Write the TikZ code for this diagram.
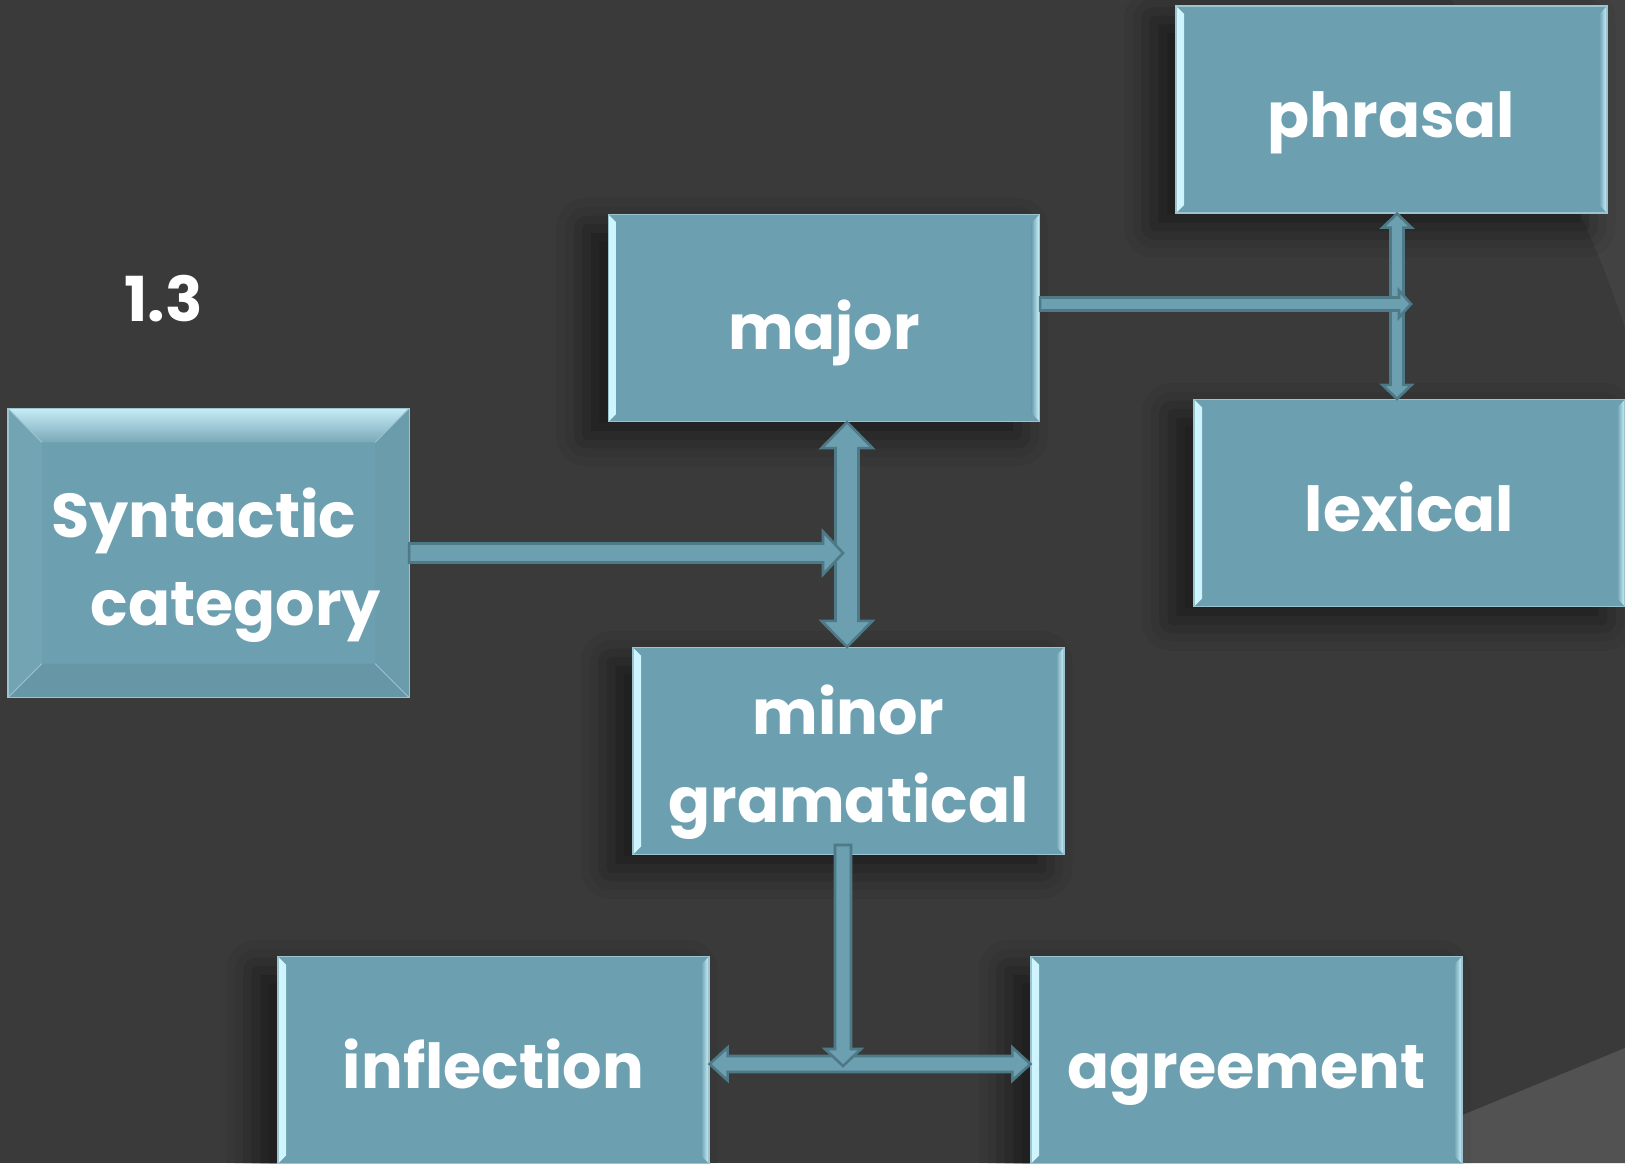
\documentclass[tikz,border=0pt]{standalone}
\usepackage{fontspec}
\setmainfont{Poppins}
\usetikzlibrary{calc,shadows.blur}

\definecolor{bg}{HTML}{3A3A3A}
\definecolor{bgring}{HTML}{424242}
\definecolor{bgband}{HTML}{525252}
\definecolor{boxfill}{HTML}{6C9FAF}
\definecolor{boxedge}{HTML}{9CC4D0}
\definecolor{bevlight}{HTML}{CFF5FF}
\definecolor{arrowedge}{HTML}{4E7987}

% double-headed block arrow: start, end, half shaft, half head, head length
\newcommand\blockdouble[5]{%
  \draw[barrow]
    (#1)
    -- ($($(#1)!#5!(#2)$)!#4!90:(#2)$)
    -- ($($(#1)!#5!(#2)$)!#3!90:(#2)$)
    -- ($($(#2)!#5!(#1)$)!#3!-90:(#1)$)
    -- ($($(#2)!#5!(#1)$)!#4!-90:(#1)$)
    -- (#2)
    -- ($($(#2)!#5!(#1)$)!#4!90:(#1)$)
    -- ($($(#2)!#5!(#1)$)!#3!90:(#1)$)
    -- ($($(#1)!#5!(#2)$)!#3!-90:(#2)$)
    -- ($($(#1)!#5!(#2)$)!#4!-90:(#2)$)
    -- cycle;}

% single-headed block arrow: start, end, half shaft, half head, head length
\newcommand\blocksingle[5]{%
  \draw[barrow]
    ($(#1)!#3!90:(#2)$)
    -- ($($(#2)!#5!(#1)$)!#3!-90:(#1)$)
    -- ($($(#2)!#5!(#1)$)!#4!-90:(#1)$)
    -- (#2)
    -- ($($(#2)!#5!(#1)$)!#4!90:(#1)$)
    -- ($($(#2)!#5!(#1)$)!#3!90:(#1)$)
    -- ($(#1)!#3!-90:(#2)$)
    -- cycle;}

\tikzset{
  box/.style={
    minimum width=431pt, minimum height=207pt, inner sep=0pt,
    fill=boxfill, draw=boxedge, line width=1.2pt,
    blur shadow={shadow xshift=-22pt, shadow yshift=-14pt,
                 shadow blur radius=30pt, shadow opacity=55},
    path picture={
      \fill[left color=bevlight, right color=boxfill]
        (path picture bounding box.north west) -- ++(8,8)
        -- ($(path picture bounding box.south west)+(8,-8)$)
        -- (path picture bounding box.south west) -- cycle;
      \fill[left color=boxfill, right color=bevlight]
        (path picture bounding box.north east) -- ++(-8,8)
        -- ($(path picture bounding box.south east)+(-8,-8)$)
        -- (path picture bounding box.south east) -- cycle;
    }},
  synbox/.style={
    minimum width=400pt, minimum height=288pt, inner sep=0pt,
    fill=boxfill, draw=boxedge, line width=1.2pt},
  lbl/.style={text=white, inner sep=0pt,
    font=\fontsize{62}{88}\selectfont\bfseries},
  barrow/.style={fill=boxfill, draw=arrowedge, line width=2.6pt,
    line join=miter},
  crease/.style={draw=boxedge, line width=0.8pt},
}

\begin{document}
\begin{tikzpicture}[x=1pt, y=-1pt]
  \useasboundingbox (0,0) rectangle (1625,1163);

  % backdrop
  \fill[bg] (0,0) rectangle (1625,1163);
  \begin{scope}
    \clip (0,0) rectangle (1625,700);
    \fill[bgring, even odd rule] (0,0) rectangle (1625,1163)
      (581,672) circle[radius=1099];
  \end{scope}
  \fill[bgband] (1380,1149) -- (1625,1048) -- (1625,1163) -- (1380,1163) -- cycle;

  % boxes
  \node[box] (major)      at (824,318)     {};
  \node[box] (phrasal)    at (1391.5,109.5) {};
  \node[box] (lexical)    at (1409.5,503)  {};
  \node[box] (minor)      at (848.5,751)   {};
  \node[box] (inflection) at (493.5,1060)  {};
  \node[box] (agreement)  at (1246.5,1060) {};

  % bevelled "Syntactic category" box
  \node[synbox] (syn) at (208.5,553) {};
  \shade[top color=bevlight!90!boxfill, bottom color=boxfill!90!white]
    (syn.north west) -- (syn.north east) -- ++(-34,34)
    -- ($(syn.north west)+(34,34)$) -- cycle;
  \fill[boxfill!95!white]
    (syn.north west) -- ++(34,34) -- ($(syn.south west)+(34,-34)$)
    -- (syn.south west) -- cycle;
  \fill[boxfill!98!black]
    (syn.north east) -- ++(-34,34) -- ($(syn.south east)+(-34,-34)$)
    -- (syn.south east) -- cycle;
  \fill[boxfill!95!black]
    (syn.south west) -- ++(34,-34) -- ($(syn.south east)+(-34,-34)$)
    -- (syn.south east) -- cycle;
  \draw[crease] (syn.north west) -- ++(34,34);
  \draw[crease] (syn.north east) -- ++(-34,34);
  \draw[crease] (syn.south west) -- ++(34,-34);
  \draw[crease] (syn.south east) -- ++(-34,-34);
  \draw[boxedge, line width=1.2pt] (syn.north west) rectangle (syn.south east);

  % junction points of the connectors
  \coordinate (majaxis) at (847,0);
  \coordinate (j1) at (843,553);
  \coordinate (j2) at (1411,304);
  \coordinate (phaxis) at (1397,0);
  \coordinate (mstart) at (843,845);
  \coordinate (j3) at (843,1066);
  \coordinate (baxis) at (0,1064);

  % connectors
  \blockdouble{majaxis |- major.south}{majaxis |- minor.north}{11.5pt}{25.5pt}{26pt}
  \blocksingle{syn.east |- j1}{j1}{9.5pt}{21.5pt}{20pt}
  \blockdouble{phaxis |- phrasal.south}{phaxis |- lexical.north}{6.5pt}{14.5pt}{14pt}
  \blocksingle{major.east |- j2}{j2}{6.5pt}{13.5pt}{12pt}
  \blockdouble{inflection.east |- baxis}{agreement.west |- baxis}{8pt}{16.5pt}{18pt}
  \blocksingle{mstart}{j3}{8pt}{18pt}{17pt}

  % texts
  \node[lbl, anchor=base] (t13)    at (163.5,321) {1.3};
  \node[lbl, anchor=base] (tsyn1)  at (204,537) {Syntactic};
  \node[lbl, anchor=base] (tsyn2)  at (236,625)   {category};
  \node[lbl, anchor=base] (tmajor) at ($(major.center)+(0,31)$)   {major};
  \node[lbl, anchor=base] (tphr)   at ($(phrasal.center)+(0,28)$) {phrasal};
  \node[lbl, anchor=base] (tlex)   at ($(lexical.center)+(0,28)$) {lexical};
  \node[lbl, anchor=base] (tminor) at ($(minor.center)+(0,-17)$)  {minor};
  \node[lbl, anchor=base] (tgram)  at ($(minor.center)+(0,71)$)   {gramatical};
  \node[lbl, anchor=base] (tinfl)  at ($(inflection.center)+(0,28)$) {inflection};
  \node[lbl, anchor=base] (tagr)   at ($(agreement.center)+(0,28)$)  {agreement};
\end{tikzpicture}
\end{document}
